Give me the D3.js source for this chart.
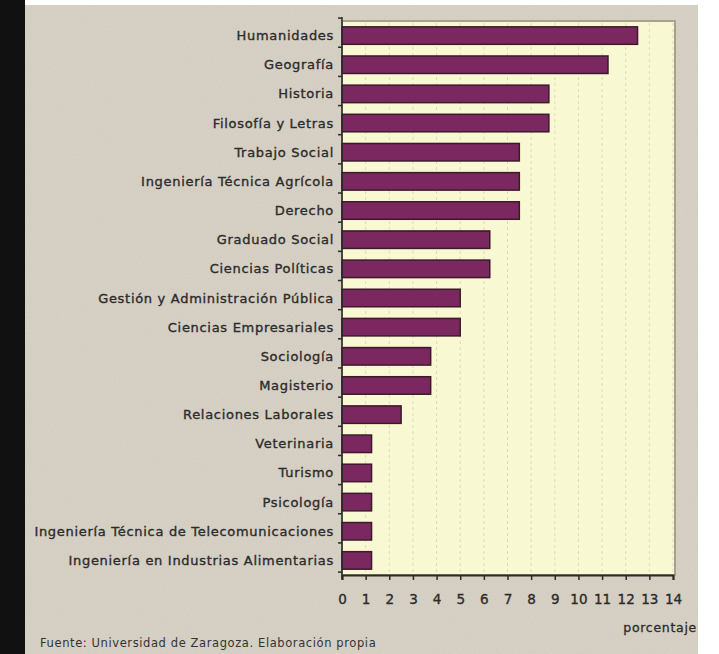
<!DOCTYPE html>
<html>
<head>
<meta charset="utf-8">
<script src="https://cdn.jsdelivr.net/npm/d3@7"></script>
<style>
  html, body { margin: 0; padding: 0; background: #fff; }
  svg { display: block; }
</style>
</head>
<body>
<div class="canvas"></div>
<script>
const categories = [
  'Humanidades', 'Geografía', 'Historia', 'Filosofía y Letras', 'Trabajo Social',
  'Ingeniería Técnica Agrícola', 'Derecho', 'Graduado Social', 'Ciencias Políticas',
  'Gestión y Administración Pública', 'Ciencias Empresariales', 'Sociología',
  'Magisterio', 'Relaciones Laborales', 'Veterinaria', 'Turismo', 'Psicología',
  'Ingeniería Técnica de Telecomunicaciones', 'Ingeniería en Industrias Alimentarias'
];
const values = [12.5, 11.25, 8.75, 8.75, 7.5, 7.5, 7.5, 6.25, 6.25, 5, 5, 3.75, 3.75, 2.5, 1.25, 1.25, 1.25, 1.25, 1.25];
const xTicks = d3.range(0, 15);
const xLabel = 'porcentaje';
const source = 'Fuente: Universidad de Zaragoza. Elaboración propia';

const canvasWidth = 719;
const canvasHeight = 654;
const plot = { left: 342, right: 675, top: 21, bottom: 575 };
const font = 'DejaVu Sans, sans-serif';
const ink = '#2b2b2b';

const svg = d3
  .select('.canvas')
  .append('svg')
  .attr('width', canvasWidth)
  .attr('height', canvasHeight);

// paper texture
const defs = svg.append('defs');
const noise = defs.append('filter').attr('id', 'paper');
noise.append('feTurbulence')
  .attr('type', 'fractalNoise')
  .attr('baseFrequency', 0.9)
  .attr('numOctaves', 2)
  .attr('seed', 3);
noise.append('feColorMatrix')
  .attr('values', '0 0 0 0 0.35  0 0 0 0 0.33  0 0 0 0 0.3  0 0 0 0.35 0');
noise.append('feComposite').attr('in2', 'SourceGraphic').attr('operator', 'in');

// black strip left, paper background
svg.append('rect').attr('x', 0).attr('y', 0).attr('width', 25).attr('height', canvasHeight).attr('fill', '#111');
svg.append('rect').attr('x', 25).attr('y', 5).attr('width', 673).attr('height', canvasHeight - 5).attr('fill', '#dad4c8');
svg.append('rect').attr('x', 25).attr('y', 5).attr('width', 673).attr('height', canvasHeight - 5)
  .attr('fill', '#dad4c8').attr('filter', 'url(#paper)').attr('opacity', 0.5);

// Scales
const x = d3.scaleLinear().domain([0, 14]).range([plot.left, plot.right - 2]);
const y = d3.scaleBand().domain(categories).range([plot.top, plot.bottom]).paddingInner(0.4).paddingOuter(0.2);

// plot background with shadowed border
svg.append('rect')
  .attr('x', plot.left).attr('y', plot.top)
  .attr('width', plot.right - plot.left).attr('height', plot.bottom - plot.top)
  .attr('fill', '#f8f8d2')
  .attr('stroke', '#a8a18e')
  .attr('stroke-width', 2);

// grid
svg.append('g')
  .selectAll('line')
  .data(xTicks.slice(1))
  .enter()
  .append('line')
  .attr('x1', d => x(d)).attr('x2', d => x(d))
  .attr('y1', plot.top + 2).attr('y2', plot.bottom)
  .attr('stroke', '#dcdcba')
  .attr('stroke-dasharray', '3, 3');

// bars
svg.append('g')
  .selectAll('rect')
  .data(values)
  .enter()
  .append('rect')
  .attr('x', x(0))
  .attr('y', (d, i) => y(categories[i]))
  .attr('width', d => x(d) - x(0))
  .attr('height', y.bandwidth())
  .attr('fill', '#7c2860')
  .attr('stroke', '#3b1a2c')
  .attr('stroke-width', 1.5);

// y axis: ticks between categories
const yAxisGroup = svg.append('g').attr('transform', `translate(${plot.left}, 0)`);
yAxisGroup.append('line')
  .attr('y1', plot.top - 4).attr('y2', plot.bottom + 4)
  .attr('stroke', '#2a2a2a').attr('stroke-width', 1.5);
const step = y.step();
yAxisGroup.selectAll('.ytick')
  .data(d3.range(categories.length + 1))
  .enter()
  .append('line')
  .attr('class', 'ytick')
  .attr('x1', -4).attr('x2', 0)
  .attr('y1', i => y(categories[0]) - step * 0.3 + i * step)
  .attr('y2', i => y(categories[0]) - step * 0.3 + i * step)
  .attr('stroke', '#2a2a2a').attr('stroke-width', 1.5);
yAxisGroup.selectAll('text')
  .data(categories)
  .enter()
  .append('text')
  .attr('x', -8)
  .attr('y', d => y(d) + y.bandwidth() / 2)
  .attr('dy', '0.35em')
  .attr('text-anchor', 'end')
  .attr('font-family', font)
  .attr('font-size', 13)
  .attr('letter-spacing', 0.7)
  .attr('fill', ink)
  .attr('stroke', ink)
  .attr('stroke-width', 0.35)
  .text(d => d);

// x axis
const xAxis = d3.axisBottom(x).tickValues(xTicks).tickSize(5).tickPadding(14);
const xAxisGroup = svg.append('g')
  .attr('transform', `translate(0, ${plot.bottom})`)
  .call(xAxis);
xAxisGroup.select('.domain').attr('stroke', '#2a2a2a').attr('stroke-width', 2);
xAxisGroup.selectAll('.tick line').attr('stroke', '#2a2a2a').attr('stroke-width', 1.5);
xAxisGroup.selectAll('text')
  .attr('font-family', font)
  .attr('font-size', 13.5)
  .attr('fill', ink)
  .attr('stroke', ink)
  .attr('stroke-width', 0.35);

// axis title and source
svg.append('text')
  .attr('x', 697).attr('y', 632)
  .attr('text-anchor', 'end')
  .attr('font-family', font)
  .attr('font-size', 12.5)
  .attr('letter-spacing', 0.7)
  .attr('fill', ink)
  .attr('stroke', ink)
  .attr('stroke-width', 0.3)
  .text(xLabel);

svg.append('text')
  .attr('x', 40).attr('y', 647)
  .attr('font-family', font)
  .attr('font-size', 11.5)
  .attr('letter-spacing', 0.6)
  .attr('fill', '#333')
  .text(source);
</script>
</body>
</html>
